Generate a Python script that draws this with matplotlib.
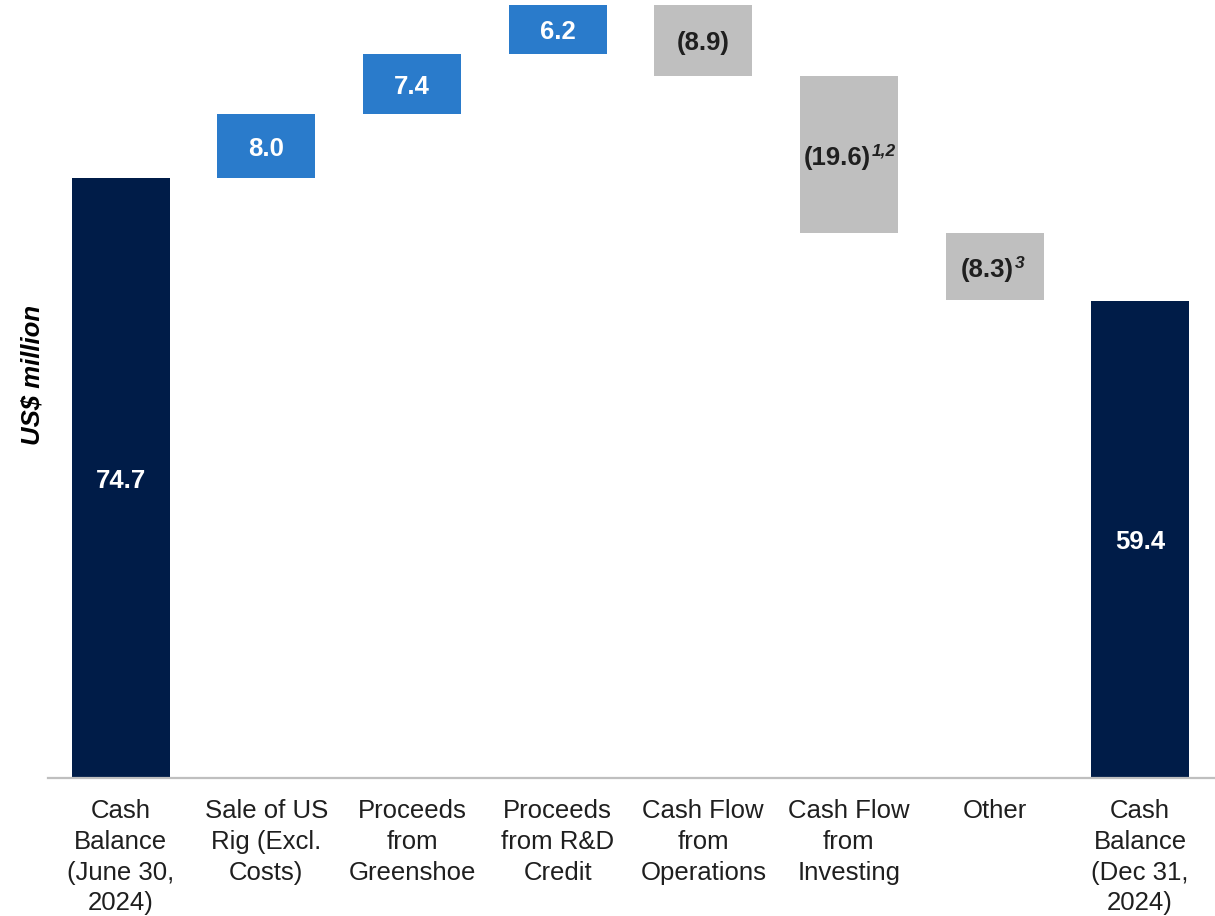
import matplotlib.pyplot as plt
import numpy as np

plt.rcParams['font.family'] = ['Liberation Sans', 'DejaVu Sans']

categories = [
    "Cash\nBalance\n(June 30,\n2024)",
    "Sale of US\nRig (Excl.\nCosts)",
    "Proceeds\nfrom\nGreenshoe",
    "Proceeds\nfrom R&D\nCredit",
    "Cash Flow\nfrom\nOperations",
    "Cash Flow\nfrom\nInvesting",
    "Other",
    "Cash\nBalance\n(Dec 31,\n2024)",
]
# 'total' bars start at zero, 'step' bars float on the running total
kinds = ["total", "step", "step", "step", "step", "step", "step", "total"]
values = [74.7, 8.0, 7.4, 6.2, -8.9, -19.6, -8.3, 59.4]
labels = ["74.7", "8.0", "7.4", "6.2", "(8.9)", "(19.6)", "(8.3)", "59.4"]
footnotes = ["", "", "", "", "", "1,2", "3", ""]

NAVY = "#001C48"
BLUE = "#2A7BCB"
GREY = "#BFBFBF"
TEXT = "#1F1F1F"

fig = plt.figure(figsize=(12.15, 9.16), dpi=100)
ax = fig.add_axes([48 / 1215, 1 - 778 / 916, 1 - 48 / 1215, 773.5 / 916])

x = np.arange(len(values))
bottoms = []
heights = []
colors = []
running = 0.0
for v, k in zip(values, kinds):
    if k == "total":
        bottoms.append(0.0)
        heights.append(v)
        colors.append(NAVY)
        running = v
    else:
        if v >= 0:
            bottoms.append(running)
            heights.append(v)
            colors.append(BLUE)
        else:
            bottoms.append(running + v)
            heights.append(-v)
            colors.append(GREY)
        running += v

ax.bar(x, heights, bottom=bottoms, width=0.673, color=colors, linewidth=0)

for i in range(len(values)):
    yc = bottoms[i] + heights[i] / 2
    col = TEXT if colors[i] == GREY else "white"
    shift = {"1,2": -12, "3": -7}.get(footnotes[i], 0)
    t = ax.annotate(labels[i], xy=(x[i], yc), xytext=(shift, -3),
                    textcoords="offset pixels", ha="center", va="center",
                    fontsize=18.5, fontweight="bold", color=col)
    if footnotes[i]:
        ax.annotate(footnotes[i], xy=(1, 1), xycoords=t, xytext=(1, 2),
                    textcoords="offset pixels", ha="left", va="top",
                    fontsize=12.5, fontweight="bold", fontstyle="italic",
                    color=col)

ax.set_xlim(-0.5, 7.514)
ax.set_ylim(0, 96.3)
ax.set_xticks(x)
ax.set_xticklabels(categories, fontsize=18.5, color=TEXT, linespacing=1.36)
ax.tick_params(axis="x", length=0, pad=15)
ax.set_yticks([])
for s in ["top", "right", "left"]:
    ax.spines[s].set_visible(False)
ax.spines["bottom"].set_color(GREY)
ax.spines["bottom"].set_linewidth(1.6)

fig.text(32 / 1215, 1 - 375 / 916, "US$ million", rotation=90, ha="center",
         va="center", fontsize=18.5, fontweight="bold", fontstyle="italic",
         color="black")

fig.savefig("out.png", dpi=100)
